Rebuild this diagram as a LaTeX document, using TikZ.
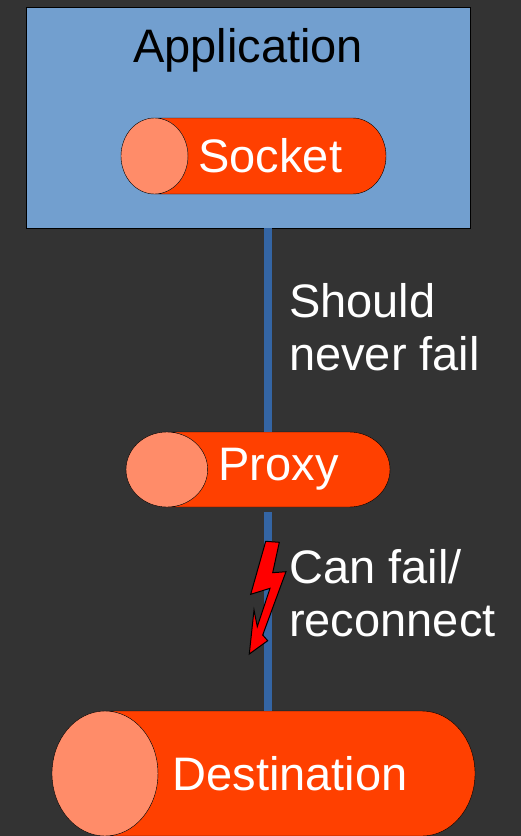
\documentclass[tikz,border=0pt]{standalone}
\usepackage{fontspec}
\setmainfont{Liberation Sans}
\usetikzlibrary{shapes.geometric,positioning}
\definecolor{bgGrey}{HTML}{333333}
\definecolor{appBlue}{HTML}{729FCF}
\definecolor{linkBlue}{HTML}{3465A4}
\definecolor{pipeRed}{HTML}{FF4000}
\definecolor{pipeEnd}{HTML}{FF8C69}
\definecolor{boltRed}{HTML}{FF0000}

\begin{document}
\begin{tikzpicture}[x=1pt, y=-1pt, every node/.style={font=\fontsize{47}{53}\selectfont, inner sep=0pt},
  appbox/.style={rectangle, draw=black, fill=appBlue},
  pipe/.style={cylinder, shape border rotate=180, anchor=shape center, draw=black, cylinder uses custom fill, cylinder body fill=pipeRed, cylinder end fill=pipeEnd, text=white},
  link/.style={draw=linkBlue, line width=8pt},
  note/.style={text=white, align=left, anchor=base west}]
\useasboundingbox (0,0) rectangle (521,836);
\clip (0,0) rectangle (521,836);
\fill[bgGrey] (0,0) rectangle (521,836);
\node (app) [appbox, minimum width=444pt, minimum height=221pt] at (248,117.5) {};
\node (apptitle) [anchor=base] at (248,62) {Application};
\node (socket) [pipe, minimum height=265pt, minimum width=76pt, aspect=1.94] at (253.5,156) {Socket};
\node (proxy) [pipe, minimum height=264pt, minimum width=75pt, aspect=1.94] at (258,469.5) {Proxy};
\node (dest) [pipe, minimum height=423pt, minimum width=125pt, aspect=3.07] at (263.5,773.5) {Destination};
\coordinate (tap) at (268,0);
\draw[link] (app.south -| tap) -- (proxy.90 -| tap);
\draw[link] ([yshift=-5pt]proxy.270 -| tap) -- (dest.90 -| tap);
% lightning bolt
\filldraw[fill=boltRed, draw=black, line width=1pt] (265.7,541.3) -- (279.3,542.3) -- (272.7,572.7) -- (286,571.7) -- (262.7,635) -- (267.7,640.7) -- (249.3,654) -- (254,610) -- (257.3,626.7) -- (270,588.3) -- (250.7,594.3) -- cycle;
\node (never) [note] at (289,370) {Should\\never fail};
\node (canfail) [note] at (289,636) {Can fail/\\reconnect};
\end{tikzpicture}
\end{document}
